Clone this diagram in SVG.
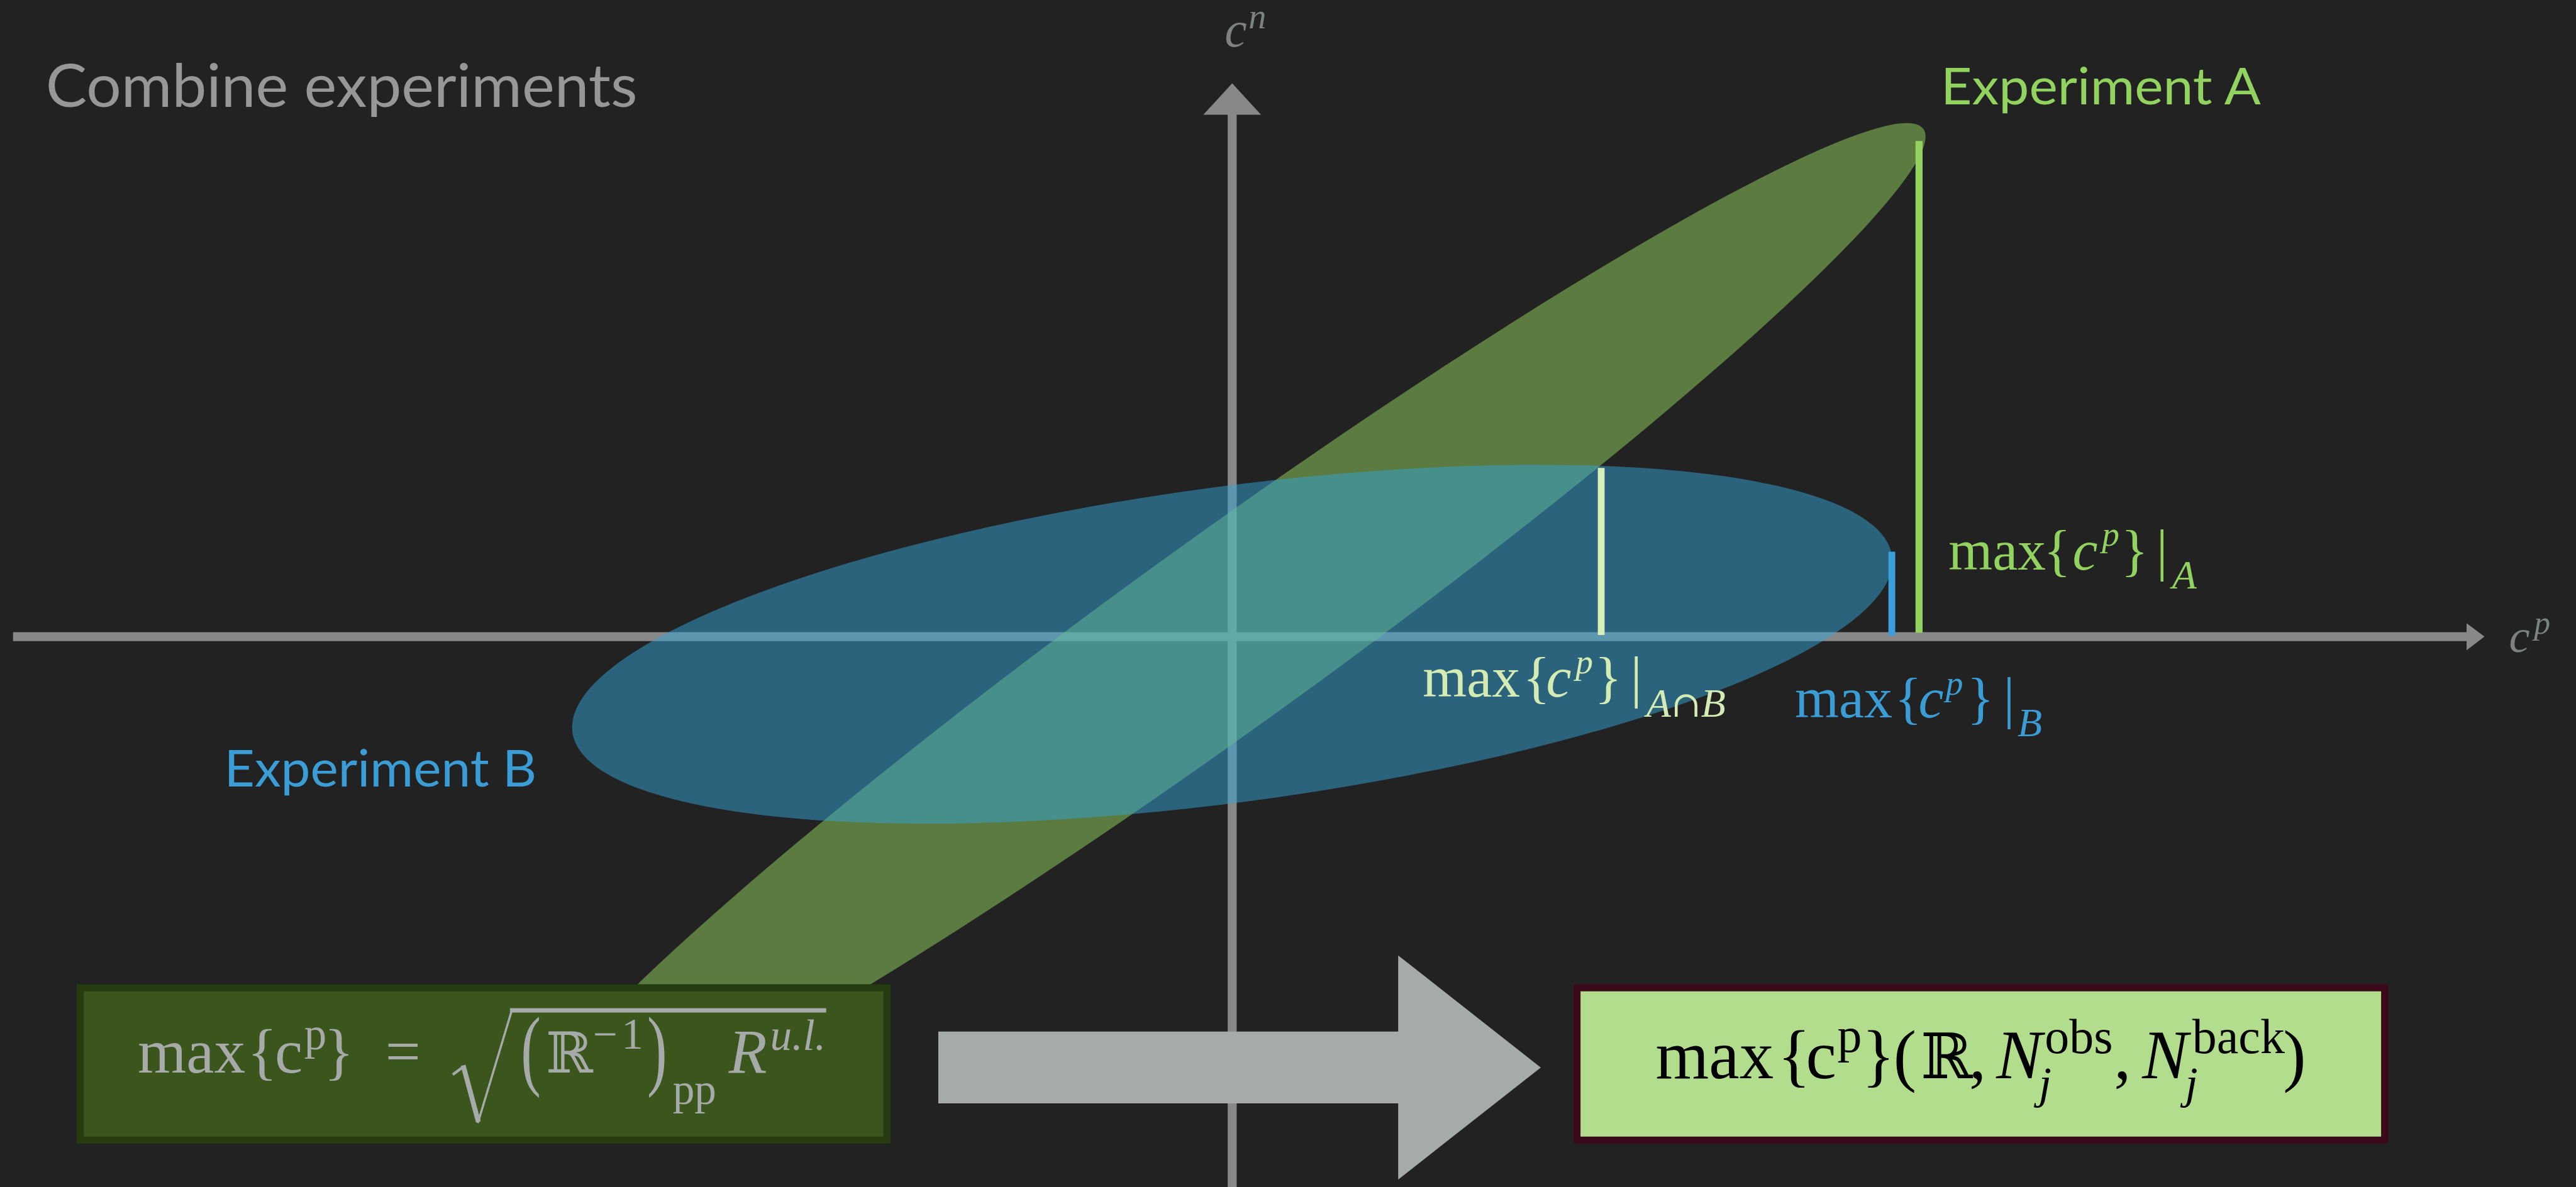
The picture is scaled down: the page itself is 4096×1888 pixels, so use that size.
<svg xmlns="http://www.w3.org/2000/svg" width="4096" height="1888" viewBox="0 0 4096 1888">
<style>
.sans{font-family:Lato,'Open Sans','Liberation Sans',sans-serif;}
.m{font-family:'Liberation Serif','DejaVu Serif',serif;}
.ds{font-family:'DejaVu Serif','Liberation Serif',serif;}
.it{font-style:italic;}
.axis{stroke:#888888;stroke-width:16.5;fill:none;}
.axhead{fill:#888888;}
</style>
<rect width="4096" height="1888" fill="#222222"/>
<g transform="scale(0.8654)">
  <g id="title">
    <text class="sans" x="84" y="197" font-size="110" fill="#979797" textLength="1087" lengthAdjust="spacingAndGlyphs">Combine experiments</text>
  </g>
  <g id="axes">
    <line class="axis" x1="24" y1="1170" x2="4534" y2="1170"/>
    <polygon class="axhead" points="4565,1170 4532,1145.5 4532,1195"/>
    <line class="axis" x1="2264" y1="2182" x2="2264" y2="208"/>
    <polygon class="axhead" points="2264,153 2211,211 2317,211"/>
    <text class="m it" x="2250" y="85" font-size="92" fill="#7d8281">c<tspan x="2294" y="52" font-size="65">n</tspan></text>
    <text class="m it" x="4610" y="1198" font-size="86" fill="#7d8281">c<tspan x="4656" y="1165" font-size="60">p</tspan></text>
  </g>
  <g id="experiment-a">
    <ellipse cx="2250" cy="1163" rx="1583" ry="175" transform="rotate(-35.8 2250 1163)" fill="#94d45e" fill-opacity="0.5"/>
  </g>
  <g id="experiment-b">
    <ellipse cx="2264" cy="1184" rx="1223" ry="290" transform="rotate(-7.6 2264 1184)" fill="#34a4d6" fill-opacity="0.5"/>
  </g>
  <g id="markers">
    <line x1="3526" y1="259" x2="3526" y2="1163" stroke="#92d25f" stroke-width="13"/>
    <line x1="3476" y1="1014" x2="3476" y2="1168" stroke="#3aa0dc" stroke-width="12.5"/>
    <line x1="2942" y1="860" x2="2942" y2="1167" stroke="#d8eeb8" stroke-width="12.5"/>
  </g>
  <g id="label-experiment-a">
    <text class="sans" x="3566" y="192" font-size="93" fill="#92d25f" textLength="588" lengthAdjust="spacingAndGlyphs">Experiment A</text>
  </g>
  <g id="label-experiment-b">
    <text class="sans" x="412" y="1445" font-size="93" fill="#3a9dd6" textLength="574" lengthAdjust="spacingAndGlyphs">Experiment B</text>
  </g>
  <g id="label-max-a">
    <text class="m" font-size="104" fill="#92d25f"><tspan x="3580" y="1047">max</tspan><tspan x="3755" y="1047">{</tspan><tspan x="3808" y="1047" class="it">c</tspan><tspan x="3862" y="1003" class="it" font-size="64">p</tspan><tspan x="3897" y="1047">}</tspan><tspan x="3962" y="1047">|</tspan><tspan x="3991" y="1082" class="it" font-size="74">A</tspan></text>
  </g>
  <g id="label-max-ab">
    <text class="m" font-size="104" fill="#d5ebb4"><tspan x="2614" y="1280">max</tspan><tspan x="2798" y="1280">{</tspan><tspan x="2841" y="1280" class="it">c</tspan><tspan x="2895" y="1238" class="it" font-size="64">p</tspan><tspan x="2930" y="1280">}</tspan><tspan x="2996" y="1280">|</tspan><tspan x="3025" y="1317" class="it" font-size="74">A</tspan><tspan y="1317" font-size="66" class="ds">∩</tspan><tspan y="1317" class="it" font-size="74">B</tspan></text>
  </g>
  <g id="label-max-b">
    <text class="m" font-size="104" fill="#3a9dd6"><tspan x="3298" y="1319">max</tspan><tspan x="3481" y="1319">{</tspan><tspan x="3525" y="1319" class="it">c</tspan><tspan x="3575" y="1277" class="it" font-size="64">p</tspan><tspan x="3614" y="1319">}</tspan><tspan x="3681" y="1319">|</tspan><tspan x="3707" y="1353" class="it" font-size="74">B</tspan></text>
  </g>
  <g id="box-formula">
    <rect x="147.5" y="1815.5" width="1482" height="280" fill="#3a561c" stroke="#263c10" stroke-width="13"/>
    <g fill="#a6aaa8">
      <text class="m" font-size="115"><tspan x="253" y="1971">max</tspan><tspan x="454" y="1971">{</tspan><tspan x="505" y="1971">c</tspan><tspan x="559" y="1929" font-size="82">p</tspan><tspan x="595" y="1971">}</tspan><tspan x="708" y="1971">=</tspan><tspan x="1003" y="1971" font-size="104" class="ds">ℝ</tspan><tspan x="1089" y="1928" font-size="80">−</tspan><tspan x="1142" y="1928" font-size="80">1</tspan><tspan x="1236" y="2029" font-size="80">pp</tspan><tspan x="1339" y="1971" class="it">R</tspan><tspan x="1415" y="1930" class="it" font-size="80">u.l.</tspan></text>
      <text class="m" font-size="164" transform="translate(957 1983) scale(0.67 1)">(</text>
      <text class="m" font-size="164" transform="translate(1189 1983) scale(0.67 1)">)</text>
      <rect x="937" y="1853" width="581" height="8"/>
    </g>
    <path d="M832,1975 L852,1960" stroke="#a6aaa8" stroke-width="5" fill="none"/>
    <path d="M851,1958 L879,2062" stroke="#a6aaa8" stroke-width="9" fill="none"/>
    <path d="M878,2064 L941,1855" stroke="#a6aaa8" stroke-width="4" fill="none"/>
  </g>
  <g id="arrow">
    <polygon points="1724,1896 2569,1896 2569,1756 2831,1962 2569,2168 2569,2028 1724,2028" fill="#a6aaa8"/>
  </g>
  <g id="box-result">
    <rect x="2897.5" y="1815.5" width="1484" height="280" fill="#b2dd8c" stroke="#3b0a1b" stroke-width="13"/>
    <text class="m" font-size="126" fill="#000000"><tspan x="3042" y="1982">max</tspan><tspan x="3266" y="1982">{</tspan><tspan x="3318" y="1982">c</tspan><tspan x="3376" y="1933" font-size="90">p</tspan><tspan x="3421" y="1982">}</tspan><tspan x="3479" y="1982">(</tspan><tspan x="3529" y="1982" font-size="115" class="ds">ℝ</tspan><tspan x="3618" y="1982">,</tspan><tspan x="3668" y="1982" class="it">N</tspan><tspan x="3757" y="1935" font-size="90">obs</tspan><tspan x="3746" y="2019" font-size="84" class="it">j</tspan><tspan x="3884" y="1982">,</tspan><tspan x="3936" y="1982" class="it">N</tspan><tspan x="4028" y="1935" font-size="90">back</tspan><tspan x="4015" y="2019" font-size="84" class="it">j</tspan><tspan x="4195" y="1982">)</tspan></text>
  </g>
</g>
</svg>
